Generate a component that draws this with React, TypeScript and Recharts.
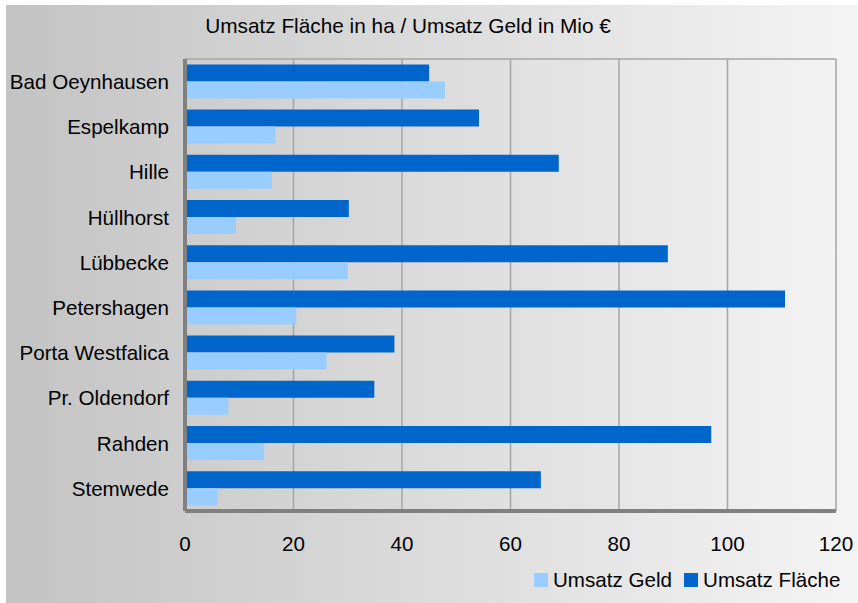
import React from 'react';
import { BarChart, Bar, XAxis, YAxis, CartesianGrid, Legend } from 'recharts';

const categories = [
  'Bad Oeynhausen',
  'Espelkamp',
  'Hille',
  'Hüllhorst',
  'Lübbecke',
  'Petershagen',
  'Porta Westfalica',
  'Pr. Oldendorf',
  'Rahden',
  'Stemwede',
];
const umsatzFlaeche = [45, 54.2, 68.9, 30.2, 89, 110.6, 38.6, 34.9, 97, 65.6];
const umsatzGeld = [47.9, 16.7, 16, 9.4, 30, 20.5, 26.1, 8, 14.6, 6];
const xTicks = [0, 20, 40, 60, 80, 100, 120];
const title = 'Umsatz Fläche in ha / Umsatz Geld in Mio €';
const nameFlaeche = 'Umsatz Fläche';
const nameGeld = 'Umsatz Geld';
const colorFlaeche = '#0066CC';
const colorGeld = '#99CCFF';

const data = categories.map((name, i) => ({
  name,
  flaeche: umsatzFlaeche[i],
  geld: umsatzGeld[i],
}));

const legendItems = [
  { name: nameGeld, color: colorGeld },
  { name: nameFlaeche, color: colorFlaeche },
];

const FONT = '"Liberation Sans", Arial, sans-serif';
const FS = 20.6;

const renderLegend = () => (
  <div
    style={{
      height: 28,
      display: 'flex',
      alignItems: 'center',
      paddingLeft: 534,
      fontFamily: FONT,
      fontSize: FS,
      color: '#000',
      lineHeight: '28px',
    }}
  >
    {legendItems.map((it, i) => (
      <div key={it.name} style={{ display: 'flex', alignItems: 'center', marginRight: i === 0 ? 12 : 0 }}>
        <span style={{ display: 'inline-block', width: 14, height: 14, background: it.color, marginRight: 5 }} />
        <span>{it.name}</span>
      </div>
    ))}
  </div>
);

export default function App() {
  return (
    <div style={{ position: 'absolute', left: 0, top: 0, width: 858, height: 603, background: '#fff' }}>
      <div
        style={{
          position: 'absolute',
          left: 6,
          top: 5,
          width: 852,
          height: 598,
          background: 'linear-gradient(to right, #c3c3c3, #f4f4f4)',
        }}
      />
      <div
        style={{
          position: 'absolute',
          left: 0,
          top: 16,
          width: 816,
          textAlign: 'center',
          fontFamily: FONT,
          fontSize: 20.8,
          lineHeight: '20px',
          color: '#000',
        }}
      >
        {title}
      </div>
      <div style={{ position: 'absolute', left: 0, top: 0 }}>
        <BarChart
          width={858}
          height={603}
          data={data}
          layout="vertical"
          margin={{ top: 59, right: 22, left: 0, bottom: 34 }}
          barCategoryGap="12%"
          barGap={0}
        >
          <CartesianGrid
            stroke="#a4a4a4"
            strokeWidth={1.5}
            horizontalCoordinatesGenerator={({ offset }: any) => [offset.top]}
          />
          <XAxis
            type="number"
            domain={[0, 120]}
            ticks={xTicks}
            height={30}
            tickLine={false}
            tickSize={0}
            tickMargin={25}
            axisLine={{ stroke: '#808080', strokeWidth: 4 }}
            tick={{ fill: '#000', fontSize: FS, fontFamily: FONT }}
          />
          <YAxis
            type="category"
            dataKey="name"
            width={185}
            tickLine={false}
            tickSize={0}
            tickMargin={16}
            interval={0}
            axisLine={{ stroke: '#808080', strokeWidth: 4 }}
            tick={{ fill: '#000', fontSize: FS, fontFamily: FONT }}
          />
          <Legend
            verticalAlign="bottom"
            content={renderLegend}
            wrapperStyle={{ position: 'absolute', left: 0, top: 566, width: 858, bottom: 'auto' }}
          />
          <Bar dataKey="flaeche" name={nameFlaeche} fill={colorFlaeche} isAnimationActive={false} />
          <Bar dataKey="geld" name={nameGeld} fill={colorGeld} isAnimationActive={false} />
        </BarChart>
      </div>
    </div>
  );
}
